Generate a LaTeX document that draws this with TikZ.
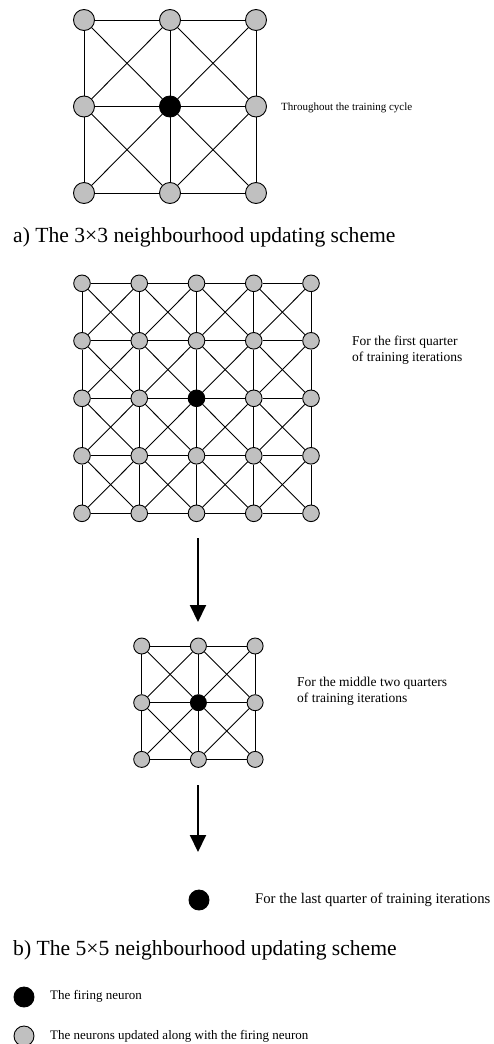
\documentclass[tikz,border=0pt]{standalone}
\usepackage{fontspec}
\setmainfont{Liberation Serif}
\usetikzlibrary{arrows.meta}
\definecolor{neurongrey}{HTML}{C0C0C0}
\begin{document}
\begin{tikzpicture}[x=1pt,y=-1pt,
  neuron/.style={circle,draw=black,fill=neurongrey,line width=0.9pt,inner sep=0pt,minimum size=#1},
  firing/.style={circle,draw=black,fill=black,line width=0.9pt,inner sep=0pt,minimum size=#1},
  link/.style={line width=0.9pt},
  flow/.style={line width=2pt,-{Triangle[length=17pt,width=16pt]}},
  note/.style={anchor=west,inner sep=0pt,align=left},
  small/.style={font=\fontsize{11}{13}\selectfont},
  mid/.style={font=\fontsize{13.5}{16}\selectfont},
  head/.style={font=\fontsize{21.6}{25}\selectfont}
]
\useasboundingbox (0,0) rectangle (493,1044);

% ---- a) 3x3 grid
\foreach \i in {0,1,2} \foreach \j in {0,1,2} {
  \ifnum\i\j=11 \def\st{firing}\else\def\st{neuron}\fi
  \node[\st=21pt] (a\i\j) at ({84+86*\i},{20+86.5*\j}) {};
}
\foreach \i/\ni in {0/1,1/2} {
  \foreach \j in {0,1,2} {
    \draw[link] (a\i\j) -- (a\ni\j);
    \draw[link] (a\j\i) -- (a\j\ni);
  }
  \foreach \j/\nj in {0/1,1/2} {
    \draw[link] (a\i\j) -- (a\ni\nj);
    \draw[link] (a\ni\j) -- (a\i\nj);
  }
}
\node[note,small] (ta) at (281,108) {Throughout the training cycle};
\node[note,head] (capa) at (13,237) {a) The 3×3 neighbourhood updating scheme};

% ---- b) 5x5 grid
\foreach \i in {0,...,4} \foreach \j in {0,...,4} {
  \ifnum\i\j=22 \def\st{firing}\else\def\st{neuron}\fi
  \node[\st=16.6pt] (b\i\j) at ({82+57.25*\i},{283.3+57.5*\j}) {};
}
\foreach \i/\ni in {0/1,1/2,2/3,3/4} {
  \foreach \j in {0,...,4} {
    \draw[link] (b\i\j) -- (b\ni\j);
    \draw[link] (b\j\i) -- (b\j\ni);
  }
  \foreach \j/\nj in {0/1,1/2,2/3,3/4} {
    \draw[link] (b\i\j) -- (b\ni\nj);
    \draw[link] (b\ni\j) -- (b\i\nj);
  }
}
\node[note,mid] (tb) at (352,350) {For the first quarter\\of training iterations};

\coordinate (s1) at (198,538);
\coordinate (e1) at (198,622);
\draw[flow] (s1) -- (e1);

% ---- middle 3x3 grid
\foreach \i in {0,1,2} \foreach \j in {0,1,2} {
  \ifnum\i\j=11 \def\st{firing}\else\def\st{neuron}\fi
  \node[\st=16pt] (c\i\j) at ({141.7+56.7*\i},{646+56.7*\j}) {};
}
\foreach \i/\ni in {0/1,1/2} {
  \foreach \j in {0,1,2} {
    \draw[link] (c\i\j) -- (c\ni\j);
    \draw[link] (c\j\i) -- (c\j\ni);
  }
  \foreach \j/\nj in {0/1,1/2} {
    \draw[link] (c\i\j) -- (c\ni\nj);
    \draw[link] (c\ni\j) -- (c\i\nj);
  }
}
\node[note,mid] (tc) at (297,691) {For the middle two quarters\\of training iterations};

\coordinate (s2) at (198,785);
\coordinate (e2) at (198,852);
\draw[flow] (s2) -- (e2);

% ---- last quarter
\node[firing=20pt] (d) at (199,900) {};
\node[note,font=\fontsize{14.7}{17}\selectfont] (td) at (255,900) {For the last quarter of training iterations};

\node[note,head] (capb) at (13,950) {b) The 5×5 neighbourhood updating scheme};

% ---- legend
\node[firing=20pt] (lf) at (24,997) {};
\node[note,font=\fontsize{13}{15}\selectfont] (lft) at (50,996) {The firing neuron};
\node[neuron=20pt] (ln) at (24,1036) {};
\node[note,font=\fontsize{13}{15}\selectfont] (lnt) at (50,1036) {The neurons updated along with the firing neuron};
\end{tikzpicture}
\end{document}
